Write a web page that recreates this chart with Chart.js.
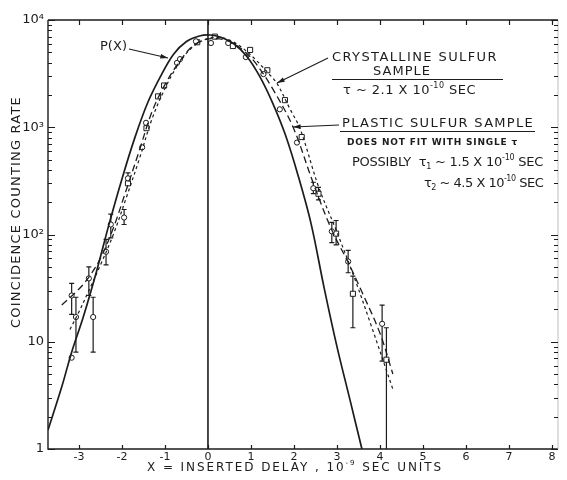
<!DOCTYPE html>
<html>
<head>
<meta charset="utf-8">
<script src="https://cdn.jsdelivr.net/npm/chart.js@4.4.1/dist/chart.umd.min.js"></script>
<style>
  html, body { margin: 0; padding: 0; background: #fff; }
  #wrap { width: 567px; height: 480px; }
</style>
</head>
<body>
<div id="wrap"><canvas id="myChart" width="567" height="480"></canvas></div>
<script>
// P(x) resolution curve (solid)
let solidX = [-3.72, -3.4, -3.17, -2.9, -2.6, -2.3, -2.0, -1.7, -1.4, -1.1, -0.8, -0.5, -0.2, 0.05, 0.3, 0.6, 0.9, 1.2, 1.5, 1.8, 2.1, 2.4, 2.7, 3.0, 3.3, 3.58];
let solidY = [1.5, 3.8, 8, 17, 44, 125, 330, 800, 1700, 3000, 4800, 6300, 7100, 7250, 6900, 6000, 4600, 3000, 1700, 850, 350, 125, 32, 9, 2.9, 1.0];

// plastic sulfur fit (long dashes)
let plasticX = [-3.4, -3.0, -2.77, -2.5, -2.2, -1.9, -1.6, -1.3, -1.0, -0.7, -0.4, -0.1, 0.2, 0.5, 0.8, 1.1, 1.5, 1.98, 2.45, 2.88, 3.26, 3.6, 4.0, 4.3];
let plasticY = [22, 31, 40, 60, 115, 260, 600, 1400, 2500, 3900, 5500, 6500, 6700, 6300, 5300, 4000, 2300, 1000, 300, 110, 55, 28, 12, 5];

// crystalline sulfur fit (short dashes)
let crystX = [-3.21, -3.0, -2.77, -2.5, -2.2, -1.9, -1.6, -1.3, -1.0, -0.7, -0.4, -0.1, 0.2, 0.5, 0.8, 1.1, 1.4, 1.6, 1.9, 2.15, 2.57, 2.98, 3.4, 3.8, 4.3];
let crystY = [13, 19, 30, 52, 100, 220, 500, 1200, 2300, 3800, 5400, 6500, 6900, 6500, 5500, 4300, 3200, 2580, 1500, 950, 280, 110, 40, 14, 3.6];

// measured points, circles
let circX  = [-3.17, -3.17, -3.07, -2.77, -2.67, -2.37, -2.26, -1.95, -1.86, -1.53, -1.44, -0.72, -0.65, -0.28, 0.07, 0.47, 0.88, 1.29, 1.67, 2.07, 2.45, 2.88, 3.26, 4.05];
let circY  = [7.1, 27, 17, 39, 17, 69, 124, 144, 334, 650, 1100, 3980, 4320, 6330, 6100, 6100, 4510, 3130, 1470, 720, 270, 107, 56, 14.7];
let circLo = [null, 18, 8, 27, 8, 52, 93, 124, 300, null, null, null, null, null, null, null, null, null, null, null, 240, 84, 44, 6.6];
let circHi = [null, 35, 26, 50, 26, 90, 155, 171, 375, null, null, null, null, null, null, null, null, null, null, null, 307, 130, 71, 22];

// measured points, squares
let sqX  = [-1.86, -1.43, -1.16, -1.02, -0.25, 0.16, 0.58, 0.98, 1.38, 1.79, 2.18, 2.57, 2.98, 3.37, 4.15];
let sqY  = [300, 980, 1940, 2450, 6200, 7000, 5720, 5260, 3400, 1790, 810, 240, 102, 28, 6.8];
let sqLo = [null, null, null, null, null, null, null, null, null, null, null, 210, 80, 13.5, 1];
let sqHi = [null, null, null, null, null, null, null, null, null, null, null, 275, 135, 41, 13.5];

let xTicks = [-3, -2, -1, 0, 1, 2, 3, 4, 5, 6, 7, 8];
let yTicks = [1, 10, 100, 1000, 10000];
let yTickLabels = ['1', '10', '10²', '10³', '10⁴'];

const ink = '#1c1c1c';
const font = 'DejaVu Sans';

const pts = (xs, ys) => xs.map((v, i) => ({ x: v, y: ys[i] }));

function richWidth(ctx, parts, size, weight) {
  let w = 0, n = 0;
  parts.forEach(([t, k]) => {
    ctx.font = (weight || '') + ' ' + (k === 'n' ? size : Math.round(size * 0.62)) + 'px ' + font;
    w += ctx.measureText(t).width;
    n += t.length;
  });
  return { w, n };
}

// draws mixed normal/superscript/subscript text, spread to fill x0..x1
function drawRich(ctx, parts, x0, x1, cy, size, weight) {
  ctx.save();
  ctx.letterSpacing = '0px';
  let { w, n } = richWidth(ctx, parts, size, weight);
  let sp = Math.max(-0.5, ((x1 - x0) - w) / n);
  ctx.letterSpacing = sp.toFixed(2) + 'px';
  ctx.fillStyle = ink;
  ctx.textBaseline = 'middle';
  ctx.textAlign = 'left';
  let x = x0;
  parts.forEach(([t, k]) => {
    let s = k === 'n' ? size : Math.round(size * 0.62);
    ctx.font = (weight || '') + ' ' + s + 'px ' + font;
    let dy = k === 'sup' ? -size * 0.42 : k === 'sub' ? size * 0.3 : 0;
    ctx.fillText(t, x, cy + dy);
    x += ctx.measureText(t).width;
  });
  ctx.restore();
}

function arrow(ctx, x1, y1, x2, y2) {
  let a = Math.atan2(y2 - y1, x2 - x1);
  ctx.beginPath();
  ctx.moveTo(x1, y1);
  ctx.lineTo(x2, y2);
  ctx.stroke();
  ctx.beginPath();
  ctx.moveTo(x2, y2);
  ctx.lineTo(x2 - 8 * Math.cos(a - 0.3), y2 - 8 * Math.sin(a - 0.3));
  ctx.lineTo(x2 - 8 * Math.cos(a + 0.3), y2 - 8 * Math.sin(a + 0.3));
  ctx.closePath();
  ctx.fill();
}

const errorBars = {
  id: 'errorBars',
  beforeDatasetsDraw(chart) {
    const { ctx, scales: { x, y } } = chart;
    ctx.save();
    ctx.strokeStyle = ink;
    ctx.lineWidth = 1.2;
    const draw = (xs, lo, hi) => xs.forEach((v, i) => {
      if (lo[i] == null) return;
      let px = x.getPixelForValue(v);
      let p1 = y.getPixelForValue(lo[i]);
      let p2 = y.getPixelForValue(hi[i]);
      ctx.beginPath();
      ctx.moveTo(px, p1); ctx.lineTo(px, p2);
      ctx.moveTo(px - 2.5, p2); ctx.lineTo(px + 2.5, p2);
      if (lo[i] > 1) { ctx.moveTo(px - 2.5, p1); ctx.lineTo(px + 2.5, p1); }
      ctx.stroke();
    });
    draw(circX, circLo, circHi);
    draw(sqX, sqLo, sqHi);
    ctx.restore();
  }
};

const frame = {
  id: 'frame',
  afterDraw(chart) {
    const { ctx, chartArea: a, scales: { x, y } } = chart;
    ctx.save();
    ctx.strokeStyle = ink;
    ctx.lineWidth = 1.4;
    ctx.beginPath();
    ctx.moveTo(a.left, a.top); ctx.lineTo(a.right, a.top);
    ctx.moveTo(a.left, a.top); ctx.lineTo(a.left, a.bottom); ctx.lineTo(a.right, a.bottom);
    ctx.stroke();
    ctx.lineWidth = 1;
    ctx.strokeStyle = '#bdbdbd';
    ctx.beginPath();
    ctx.moveTo(a.right, a.top); ctx.lineTo(a.right, a.bottom);
    ctx.stroke();
    ctx.strokeStyle = ink;
    ctx.lineWidth = 1.2;
    ctx.beginPath();
    y.ticks.forEach(t => {
      let py = Math.round(y.getPixelForValue(t.value)) + 0.5;
      let len = yTicks.includes(t.value) ? 7 : 4;
      ctx.moveTo(a.left, py); ctx.lineTo(a.left + len, py);
      ctx.moveTo(a.right, py); ctx.lineTo(a.right - len, py);
    });
    x.ticks.forEach(t => {
      let px = Math.round(x.getPixelForValue(t.value)) + 0.5;
      ctx.moveTo(px, a.top); ctx.lineTo(px, a.top + 5);
      ctx.moveTo(px, a.bottom); ctx.lineTo(px, a.bottom - 4);
    });
    ctx.stroke();

    // axis titles
    ctx.save();
    ctx.translate(17, 212);
    ctx.rotate(-Math.PI / 2);
    drawRich(ctx, [['COINCIDENCE COUNTING RATE', 'n']], -116, 116, 0, 13);
    ctx.restore();
    drawRich(ctx, [['X = INSERTED DELAY , 10', 'n'], ['-9', 'sup'], [' SEC UNITS', 'n']], 147, 443, 468, 12);

    // annotations
    ctx.fillStyle = ink;
    ctx.lineWidth = 1.1;
    drawRich(ctx, [['P(X)', 'n']], 100, 127, 47, 13);
    arrow(ctx, 129, 49, 168, 58);

    drawRich(ctx, [['CRYSTALLINE SULFUR', 'n']], 332, 498, 58, 13);
    drawRich(ctx, [['SAMPLE', 'n']], 373, 431, 72, 13);
    ctx.beginPath(); ctx.moveTo(332, 79.5); ctx.lineTo(503, 79.5); ctx.stroke();
    drawRich(ctx, [['τ ~ 2.1 X 10', 'n'], ['-10', 'sup'], [' SEC', 'n']], 343, 476, 91, 13);
    arrow(ctx, 328, 58, 277, 83);

    drawRich(ctx, [['PLASTIC SULFUR SAMPLE', 'n']], 342, 534, 124, 13);
    ctx.beginPath(); ctx.moveTo(340, 131.5); ctx.lineTo(535, 131.5); ctx.stroke();
    arrow(ctx, 339, 125, 293, 127);
    drawRich(ctx, [['DOES NOT FIT WITH SINGLE τ', 'n']], 347, 518, 143, 9, 'bold');
    drawRich(ctx, [['POSSIBLY  τ', 'n'], ['1', 'sub'], [' ~ 1.5 X 10', 'n'], ['-10', 'sup'], [' SEC', 'n']], 352, 543, 163, 13);
    drawRich(ctx, [['τ', 'n'], ['2', 'sub'], [' ~ 4.5 X 10', 'n'], ['-10', 'sup'], [' SEC', 'n']], 424, 543, 184, 13);
    ctx.restore();
  }
};

let ctx = document.getElementById('myChart').getContext('2d');

let myChart = new Chart(ctx, {
  type: 'scatter',
  data: {
    datasets: [
      {
        data: pts(solidX, solidY), showLine: true, borderColor: ink, borderWidth: 1.7,
        pointRadius: 0, tension: 0.35
      },
      {
        data: pts(plasticX, plasticY), showLine: true, borderColor: ink, borderWidth: 1.3,
        borderDash: [7, 4], pointRadius: 0, tension: 0.35
      },
      {
        data: pts(crystX, crystY), showLine: true, borderColor: ink, borderWidth: 1.2,
        borderDash: [3, 3], pointRadius: 0, tension: 0.35
      },
      {
        data: [{ x: 0, y: 1 }, { x: 0, y: 10000 }], showLine: true, borderColor: ink,
        borderWidth: 1.6, pointRadius: 0
      },
      {
        data: pts(circX, circY), pointStyle: 'circle', pointRadius: 2.6,
        backgroundColor: '#fff', borderColor: ink, borderWidth: 1
      },
      {
        data: pts(sqX, sqY), pointStyle: 'rect', pointRadius: 3.6,
        backgroundColor: '#fff', borderColor: ink, borderWidth: 1
      }
    ]
  },
  options: {
    responsive: false,
    devicePixelRatio: 1,
    animation: false,
    layout: { padding: { left: 0, right: 9, top: 20, bottom: 0 } },
    plugins: { legend: { display: false }, tooltip: { enabled: false } },
    scales: {
      x: {
        type: 'linear', min: -3.72, max: 8.14,
        grid: { display: false, drawTicks: false },
        border: { display: false },
        afterBuildTicks: (scale) => { scale.ticks = xTicks.map(v => ({ value: v })); },
        afterFit: (scale) => { scale.height = 31; },
        ticks: {
          autoSkip: false, maxRotation: 0, padding: 2, color: ink,
          font: { family: font, size: 11 }
        }
      },
      y: {
        type: 'logarithmic', min: 1, max: 10000,
        grid: { display: false, drawTicks: false },
        border: { display: false },
        afterBuildTicks: (scale) => {
          let t = [];
          yTicks.slice(0, -1).forEach(d => { for (let m = 1; m < 10; m++) t.push({ value: m * d }); });
          t.push({ value: 10000 });
          scale.ticks = t;
        },
        afterFit: (scale) => { scale.width = 48; },
        ticks: {
          autoSkip: false, padding: 4, color: ink,
          font: { family: font, size: 13 },
          callback: (value) => {
            let i = yTicks.indexOf(value);
            return i >= 0 ? yTickLabels[i] : '';
          }
        }
      }
    }
  },
  plugins: [errorBars, frame]
});
</script>
</body>
</html>
